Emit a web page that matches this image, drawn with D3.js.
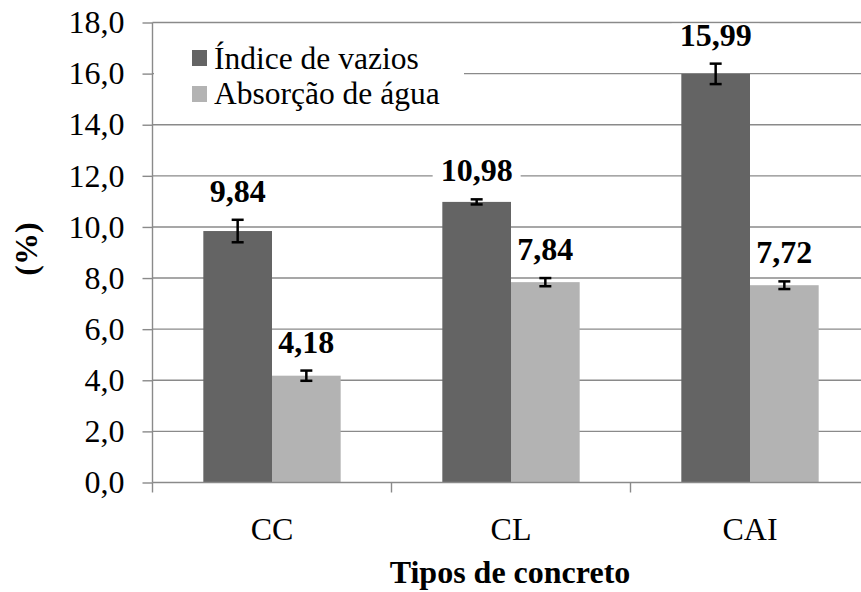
<!DOCTYPE html>
<html>
<head>
<meta charset="utf-8">
<script src="https://cdn.jsdelivr.net/npm/d3@7"></script>
<style>
  body { margin: 0; background: #fff; }
  .serif { font-family: 'Liberation Serif'; }
</style>
</head>
<body>
<svg id="chart" width="861" height="592">
  <text class="serif" x="510" y="583" text-anchor="middle" style="font-family:'Liberation Serif';font-size:32px;font-weight:bold">Tipos de concreto</text>
  <text class="serif" transform="translate(37,249) rotate(-90)" text-anchor="middle" style="font-family:'Liberation Serif';font-size:32px;font-weight:bold">(%)</text>
</svg>
<script>
var categories = ["CC", "CL", "CAI"];
var seriesNames = ["Índice de vazios", "Absorção de água"];
var seriesColors = ["#646464", "#b3b3b3"];
var indiceVazios = [9.84, 10.98, 15.99];
var absorcaoAgua = [4.18, 7.84, 7.72];
var indiceErro = [0.44, 0.10, 0.40];
var absorcaoErro = [0.20, 0.16, 0.15];
var yTicks = [0, 2, 4, 6, 8, 10, 12, 14, 16, 18];

var values = [indiceVazios, absorcaoAgua];
var errors = [indiceErro, absorcaoErro];

var svg = d3.select("#chart");
var gridColor = "#8a8a8a";
var fmt = function (v, d) { return v.toFixed(d).replace(".", ","); };

// all text goes through this so the serif font sticks
function serif(sel, size, bold) {
  return sel.attr("class", "serif")
    .attr("style", "font-family:'Liberation Serif';font-size:" + size + "px;font-weight:" + (bold ? "bold" : "normal"))
    .attr("fill", "#000");
}

var x0 = d3.scaleBand().domain(categories).range([152.5, 869.5]).padding(0);
var x1 = d3.scaleBand().domain(d3.range(seriesNames.length))
  .range([0, x0.bandwidth()]).paddingInner(0).paddingOuter(0.74);
var y = d3.scaleLinear().domain([0, 18]).range([482.5, 22.5]);

var plot = svg.insert("g", ":first-child");

// gridlines
plot.append("g").selectAll("line").data(yTicks.filter(function (d) { return d > 0; }))
  .join("line")
  .attr("x1", 152.5).attr("x2", 869.5)
  .attr("y1", function (d) { return y(d); }).attr("y2", function (d) { return y(d); })
  .attr("stroke", gridColor).attr("stroke-width", 1.4);

// white patches behind data labels (drawn under the bars)
var bgLayer = plot.append("g");

// y axis
var yAxis = d3.axisLeft(y).tickValues(yTicks).tickSize(10).tickPadding(18)
  .tickFormat(function (d) { return fmt(d, 1); });
var gy = plot.append("g").attr("transform", "translate(152.5,0)").call(yAxis)
  .attr("font-family", null).attr("font-size", null);
gy.select(".domain").attr("stroke", gridColor).attr("stroke-width", 1.4).attr("d", "M0,22.5V482.5");
gy.selectAll(".tick line").attr("stroke", gridColor).attr("stroke-width", 1.4);
serif(gy.selectAll(".tick text"), 32, false);

// bars
var groups = plot.append("g").selectAll("g").data(categories).join("g")
  .attr("transform", function (d) { return "translate(" + x0(d) + ",0)"; });

seriesNames.forEach(function (s, si) {
  groups.append("rect")
    .attr("x", x1(si))
    .attr("width", x1.bandwidth())
    .attr("y", function (d, i) { return y(values[si][i]); })
    .attr("height", function (d, i) { return y(0) - y(values[si][i]); })
    .attr("fill", seriesColors[si]);
});

// x axis
var xTicks = categories.map(function (c) { return x0(c); }).concat([x0.range()[1]]);
var gx = plot.append("g");
gx.append("line").attr("x1", 152.5).attr("x2", 869.5).attr("y1", y(0)).attr("y2", y(0))
  .attr("stroke", gridColor).attr("stroke-width", 1.4);
gx.selectAll("line.tk").data(xTicks).join("line").attr("class", "tk")
  .attr("x1", function (d) { return d; }).attr("x2", function (d) { return d; })
  .attr("y1", y(0)).attr("y2", y(0) + 10)
  .attr("stroke", gridColor).attr("stroke-width", 1.4);
serif(gx.selectAll("text").data(categories).join("text"), 32, false)
  .attr("x", function (d) { return x0(d) + x0.bandwidth() / 2; })
  .attr("y", 540)
  .attr("text-anchor", "middle")
  .text(function (d) { return d; });

// error bars
seriesNames.forEach(function (s, si) {
  var eg = groups.append("g").attr("stroke", "#000").attr("stroke-width", 2.5);
  var cx = x1(si) + x1.bandwidth() / 2;
  eg.append("line").attr("x1", cx).attr("x2", cx)
    .attr("y1", function (d, i) { return y(values[si][i] + errors[si][i]); })
    .attr("y2", function (d, i) { return y(values[si][i] - errors[si][i]); });
  [1, -1].forEach(function (sign) {
    eg.append("line").attr("x1", cx - 6).attr("x2", cx + 6)
      .attr("y1", function (d, i) { return y(values[si][i] + sign * errors[si][i]); })
      .attr("y2", function (d, i) { return y(values[si][i] + sign * errors[si][i]); });
  });
});

// data labels, with a white patch sized from the label length
seriesNames.forEach(function (s, si) {
  var cx = x1(si) + x1.bandwidth() / 2;
  groups.each(function (d, i) {
    var label = fmt(values[si][i], 2);
    var ly = y(values[si][i] + errors[si][i]) - 18;
    var w = (label.length - 0.5) * 16 + 16;
    bgLayer.append("rect").attr("fill", "#fff")
      .attr("x", x0(d) + cx - w / 2).attr("y", ly - 22)
      .attr("width", w).attr("height", 18);
    serif(d3.select(this).append("text"), 32, true)
      .attr("x", cx)
      .attr("y", ly)
      .attr("text-anchor", "middle")
      .text(label);
  });
});

// legend
var lg = plot.append("g");
lg.append("rect").attr("x", 154).attr("y", 32).attr("width", 310).attr("height", 84).attr("fill", "#fff");
seriesNames.forEach(function (s, i) {
  lg.append("rect").attr("x", 192).attr("y", 50 + i * 36).attr("width", 15).attr("height", 16)
    .attr("fill", seriesColors[i]);
  serif(lg.append("text"), 31.5, false).attr("x", 214).attr("y", 69 + i * 35).text(s);
});
</script>
</body>
</html>
